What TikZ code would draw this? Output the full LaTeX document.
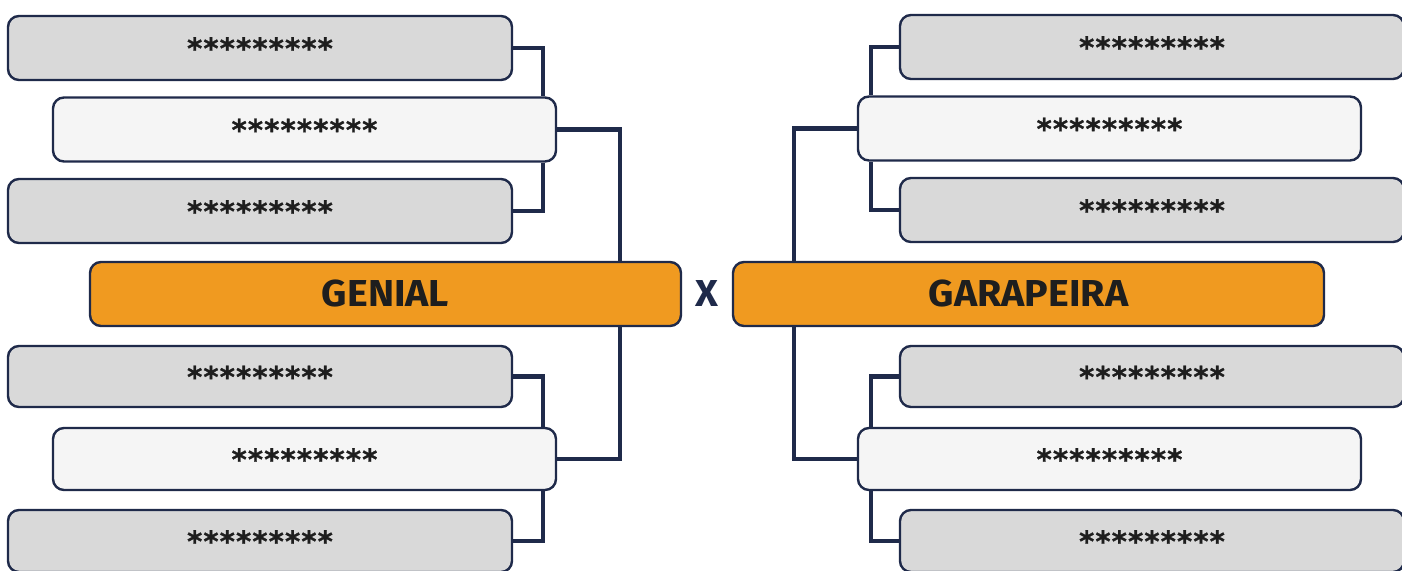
\documentclass[tikz,border=0pt]{standalone}
\usepackage{fontspec}
\setmainfont{Fira Sans}
\newfontfamily\starfont[FakeBold=1.0, LetterSpace=4]{DejaVu Sans}
\newfontfamily\titlefont[FakeStretch=1.05]{Fira Sans}
\usetikzlibrary{backgrounds}
\definecolor{navy}{HTML}{1F2A4A}
\definecolor{boxgray}{HTML}{D9D9D9}
\definecolor{boxlight}{HTML}{F5F5F5}
\definecolor{teamorange}{HTML}{F09A20}
\definecolor{ink}{HTML}{1E1E1E}
\tikzset{
  basebox/.style={draw=navy, line width=2.4pt, rounded corners=11pt, inner sep=0pt, text=ink},
  graybox/.style={basebox, fill=boxgray, minimum width=504pt, minimum height=64pt, font=\starfont\bfseries\fontsize{29}{29}\selectfont},
  lightbox/.style={basebox, fill=boxlight, minimum width=503pt, minimum height=64pt, font=\starfont\bfseries\fontsize{29}{29}\selectfont},
  teambox/.style={basebox, fill=teamorange, minimum width=591pt, minimum height=64pt, font=\titlefont\bfseries\fontsize{37.5}{37.5}\selectfont},
  link/.style={draw=navy, line width=4.6pt},
}
\begin{document}
\begin{tikzpicture}[x=1pt, y=-1pt]
\useasboundingbox (0,0) rectangle (1402,570);
% left column
\node[graybox]  (L1) at (260,48)    {*********};
\node[lightbox] (L2) at (304.5,129.5) {*********};
\node[graybox]  (L3) at (260,211)   {*********};
\node[teambox]  (G)  at (385.5,294) {GENIAL};
\node[graybox, minimum height=61pt]  (L4) at (260,376.5) {*********};
\node[lightbox, minimum height=62pt] (L5) at (304.5,459) {*********};
\node[graybox, minimum height=62pt]  (L6) at (260,541)   {*********};
% right column
\node[graybox]  (R1) at (1152,47)    {*********};
\node[lightbox] (R2) at (1109.5,128.5) {*********};
\node[graybox]  (R3) at (1152,210)   {*********};
\node[teambox]  (P)  at (1028.5,294) {GARAPEIRA};
\node[graybox, minimum height=61pt]  (R4) at (1152,376.5) {*********};
\node[lightbox, minimum height=62pt] (R5) at (1109.5,459) {*********};
\node[graybox, minimum height=62pt]  (R6) at (1152,541)   {*********};
% versus mark
\node[text=navy, font=\titlefont\bfseries\fontsize{37.5}{37.5}\selectfont, inner sep=0pt] (X) at (707,294) {X};
% connector columns
\coordinate (la) at (543,0);
\coordinate (lb) at (620,0);
\coordinate (ra) at (871,0);
\coordinate (rb) at (794,0);
\begin{scope}[on background layer]
\draw[link] (L1.east) -| (la |- L2.north);
\draw[link] (L3.east) -| (la |- L2.south);
\draw[link] (L2.east) -| (lb |- G.north);
\draw[link] (L4.east) -| (la |- L5.north);
\draw[link] (L6.east) -| (la |- L5.south);
\draw[link] (L5.east) -| (lb |- G.south);
\draw[link] (R1.west) -| (ra |- R2.north);
\draw[link] (R3.west) -| (ra |- R2.south);
\draw[link] (R2.west) -| (rb |- P.north);
\draw[link] (R4.west) -| (ra |- R5.north);
\draw[link] (R6.west) -| (ra |- R5.south);
\draw[link] (R5.west) -| (rb |- P.south);
\end{scope}
\end{tikzpicture}
\end{document}
